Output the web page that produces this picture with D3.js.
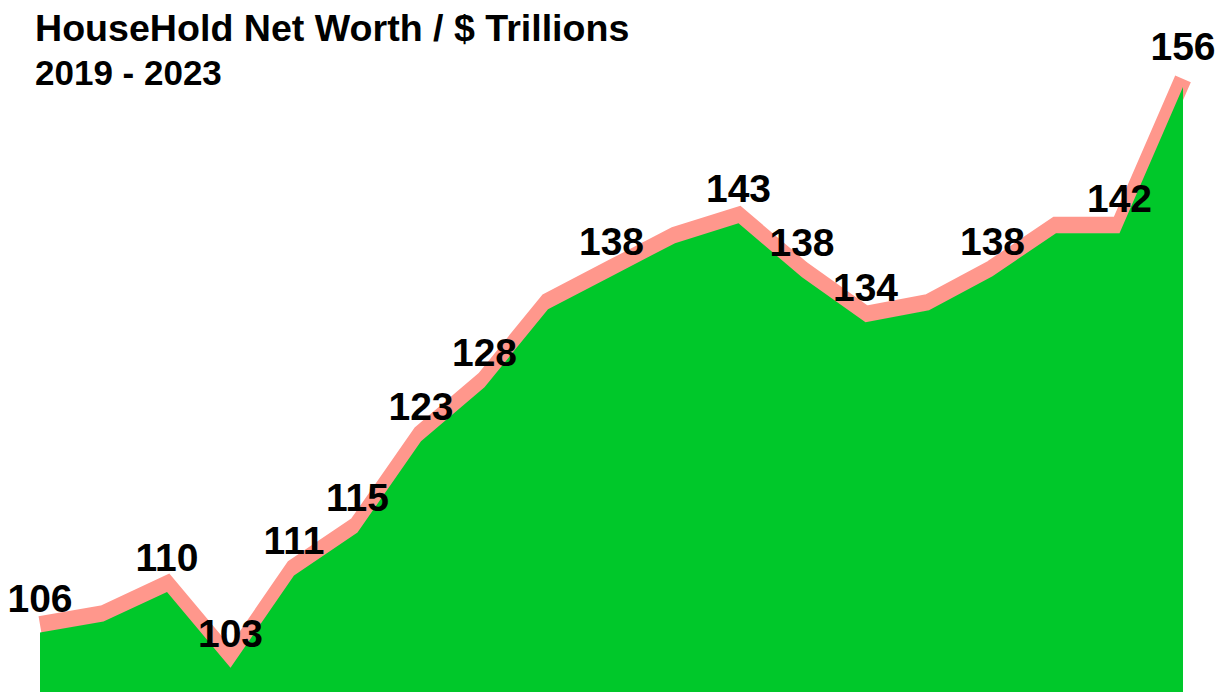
<!DOCTYPE html>
<html>
<head>
<meta charset="utf-8">
<script src="https://cdn.jsdelivr.net/npm/d3@7"></script>
<style>
    html, body { margin: 0; padding: 0; background: #fff; }
    #chart { width: 1226px; height: 692px; }
    text { font-family: Helvetica, Arial, "Liberation Sans", sans-serif; font-weight: bold; fill: #000; }
</style>
</head>
<body>
<div id="chart"></div>
<script>
// Data (quarterly, 2019 - 2023)
const quarters = [
    "2019 Q1", "2019 Q2", "2019 Q3", "2019 Q4",
    "2020 Q1", "2020 Q2", "2020 Q3", "2020 Q4",
    "2021 Q1", "2021 Q2", "2021 Q3", "2021 Q4",
    "2022 Q1", "2022 Q2", "2022 Q3", "2022 Q4",
    "2023 Q1", "2023 Q2", "2023 Q3"
];
const netWorth = [
    106.0, 107.0, 109.7, 102.8,
    111.2, 115.1, 123.4, 128.3,
    135.4, 138.4, 141.4, 143.2,
    138.3, 134.2, 135.3, 138.4,
    142.3, 142.3, 155.6
];
// which points carry a value label
const labelled = [
    true, false, true, true,
    true, true, true, true,
    false, true, false, true,
    true, true, false, true,
    false, true, true
];

const title = "HouseHold Net Worth / $ Trillions";
const subtitle = "2019 - 2023";

const data = quarters.map((q, i) => ({ q, value: netWorth[i], label: labelled[i] }));

const renderChart = (containerId) => {
    const container = d3.select(containerId);
    container.html("");
    const width = 1226, height = 692;

    const svg = container.append("svg")
        .attr("width", width)
        .attr("height", height);

    const x = d3.scalePoint()
        .domain(quarters)
        .range([40, 1183]);

    const y = d3.scaleLinear()
        .domain([100.6, 163.5])
        .range([height, 0]);

    const line = d3.line()
        .x(d => x(d.q))
        .y(d => y(d.value));

    const area = d3.area()
        .x(d => x(d.q))
        .y0(height)
        .y1(d => y(d.value));

    // pink line sits just above the green area (area drawn over it)
    svg.append("path")
        .datum(data)
        .attr("fill", "none")
        .attr("stroke", "#ff978c")
        .attr("stroke-width", 17)
        .attr("stroke-linejoin", "miter")
        .attr("stroke-linecap", "butt")
        .attr("transform", "translate(0,-8)")
        .attr("d", line);

    svg.append("path")
        .datum(data)
        .attr("fill", "#00c82a")
        .attr("d", area);

    svg.append("g")
        .selectAll("text")
        .data(data.filter(d => d.label))
        .join("text")
        .attr("x", d => x(d.q))
        .attr("y", (d, i, nodes) => y(d.value) - (i === nodes.length - 1 ? 27 : 21))
        .attr("text-anchor", "middle")
        .attr("font-size", 39)
        .text(d => Math.round(d.value));

    svg.append("text")
        .attr("x", 35)
        .attr("y", 41)
        .attr("font-size", 37.6)
        .text(title);

    svg.append("text")
        .attr("x", 35)
        .attr("y", 85)
        .attr("font-size", 35)
        .text(subtitle);
};

renderChart("#chart");
</script>
</body>
</html>
